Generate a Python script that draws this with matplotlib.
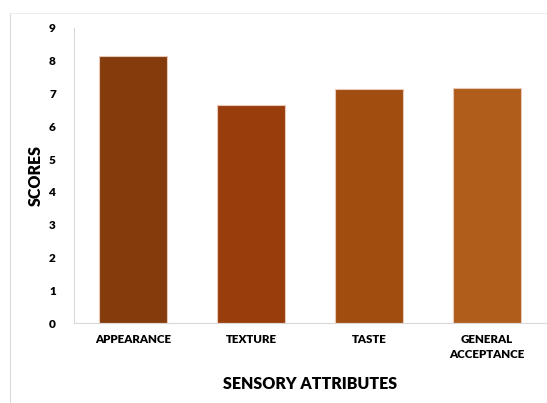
import matplotlib.pyplot as plt
from matplotlib.lines import Line2D

categories = ["APPEARANCE", "TEXTURE", "TASTE", "GENERAL\nACCEPTANCE"]
scores = [8.15, 6.65, 7.15, 7.18]
bar_colors = ["#843C0C", "#9A3D0D", "#A14D10", "#B05C1B"]
y_ticks = list(range(0, 10))

plt.rcParams['font.family'] = ['Lato', 'DejaVu Sans']

fig = plt.figure(figsize=(5.47, 4.03), dpi=100)
ax = fig.add_axes([74 / 547, 1 - 323 / 403, 472 / 547, 295 / 403])

x = range(len(categories))
ax.bar(x, scores, width=0.58, color=bar_colors, edgecolor="#E8C9B8", linewidth=0.8)

ax.set_xlim(-0.5, 3.5)
ax.set_ylim(0, 9)
ax.set_yticks(y_ticks)
ax.set_yticklabels([str(t) for t in y_ticks], fontsize=8.5, fontweight="heavy")
ax.set_xticks(list(x))
ax.set_xticklabels(categories, fontsize=8.3, fontweight="heavy", linespacing=1.4)
ax.tick_params(axis="x", length=0, pad=8)
ax.tick_params(axis="y", length=0, pad=13)

for side in ["top", "right"]:
    ax.spines[side].set_visible(False)
ax.spines["left"].set_color("#D9D9D9")
ax.spines["bottom"].set_color("#D9D9D9")

ax.set_xlabel("SENSORY ATTRIBUTES", fontsize=11.5, fontweight="heavy", labelpad=12)
ax.set_ylabel("SCORES", fontsize=11.5, fontweight="heavy", labelpad=4)

# faint chart frame at left and top
fig.add_artist(Line2D([10 / 547, 10 / 547], [0, 1 - 13 / 403], color="#D9D9D9", lw=0.8))
fig.add_artist(Line2D([10 / 547, 1], [1 - 13 / 403, 1 - 13 / 403], color="#EDEDED", lw=0.8))

fig.savefig("out.png", dpi=100)
